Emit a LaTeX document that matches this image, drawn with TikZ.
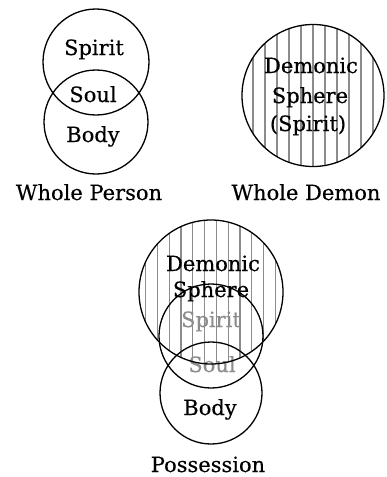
\documentclass[tikz,border=0pt]{standalone}
\usepackage{fontspec}
\setmainfont{DejaVu Serif}
\newfontfamily\heavyserif{DejaVu Serif}[FakeBold=0.35]
\begin{document}
\begin{tikzpicture}[x=1pt,y=-1pt,
  ring/.style={draw=black, line width=1.3pt},
  lbl/.style={anchor=base, inner sep=0pt, font=\heavyserif\fontsize{21}{25}\selectfont},
  faint/.style={lbl, text=black!45},
  hatchline/.style={draw=black!45, line width=1.2pt}]
\useasboundingbox (0,0) rectangle (387,477);
\fill[white] (0,0) rectangle (387,477);

% ---- Whole Person ----
\draw[ring] (96,62) circle (53pt);
\draw[ring] (96,122) circle (52pt);
\node[lbl] (wpspirit) at (94,55) {Spirit};
\node[lbl] (wpsoul) at (93,102) {Soul};
\node[lbl] (wpbody) at (93,142) {Body};
\node[lbl] (wplabel) at (89,200) {Whole Person};

% ---- Whole Demon ----
\begin{scope}
  \clip (313,95.5) circle (71pt);
  \foreach \k in {0,...,10} \draw[hatchline] ({253+12*\k},20) -- ++(0,155);
\end{scope}
\draw[ring] (313,95.5) circle (71pt);
\node[lbl] (wddemonic) at (311,73) {Demonic};
\node[lbl] (wdsphere) at (310,103) {Sphere};
\node[lbl] (wdspirit) at (308,131) {(Spirit)};
\node[lbl] (wdlabel) at (306,200) {Whole Demon};

% ---- Possession ----
\begin{scope}
  \clip (211,292) circle (72pt);
  \foreach \k in {0,...,11} \draw[hatchline] ({145.5+11.8*\k},215) -- ++(0,160);
\end{scope}
\node[faint] (pspirit) at (211,327) {Spirit};
\node[faint] (psoul) at (212,372) {Soul};
\draw[ring] (211,292) circle (72pt);
\draw[ring] (211,336) circle (52pt);
\draw[ring] (211,393) circle (51pt);
\node[lbl] (pdemonic) at (213,271) {Demonic};
\node[lbl] (psphere) at (211,297) {Sphere};
\node[lbl] (pbody) at (210,415) {Body};
\node[lbl] (plabel) at (208,472) {Possession};
\end{tikzpicture}
\end{document}
